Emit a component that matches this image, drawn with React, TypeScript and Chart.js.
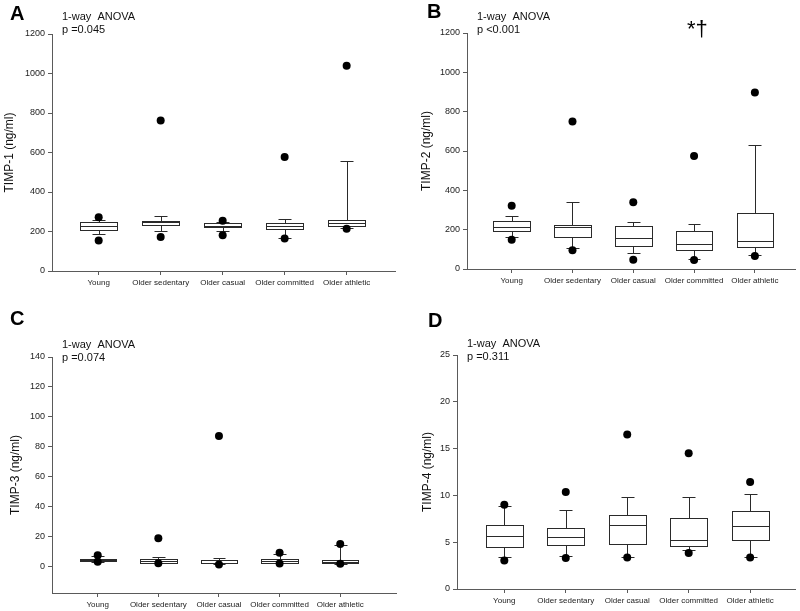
import React, { useEffect, useRef } from 'react';
import { Chart, registerables } from 'chart.js';

Chart.register(...registerables);

const FONT = 'Arial, "Liberation Sans", sans-serif';

// ---------- data ----------
const categories = ['Young', 'Older sedentary', 'Older casual', 'Older committed', 'Older athletic'];

// Panel A: TIMP-1
const timp1Q1 = [207, 233, 222, 214, 226];
const timp1Median = [226, 246, 230, 229, 241];
const timp1Q3 = [246, 254, 242, 245, 256];
const timp1WhiskerLow = [186, 202, 204, 167, 219];
const timp1WhiskerHigh = [258, 278, 250, 265, 555];
const timp1OutLow = [155, 172, 181, 164, 214];
const timp1OutHigh = [272, 762, 254, 577, 1039];

// Panel B: TIMP-2
const timp2Q1 = [191, 164, 117, 95, 112];
const timp2Median = [213, 213, 156, 127, 144];
const timp2Q3 = [246, 225, 219, 191, 283];
const timp2WhiskerLow = [164, 108, 79, 49, 69];
const timp2WhiskerHigh = [269, 339, 239, 230, 630];
const timp2OutLow = [149, 95, 47, 46, 66];
const timp2OutHigh = [322, 750, 340, 575, 898];

// Panel C: TIMP-3
const timp3Q1 = [3.2, 2.3, 2.0, 2.0, 1.8];
const timp3Median = [4.0, 3.6, 2.3, 3.4, 2.9];
const timp3Q3 = [4.7, 4.5, 4.0, 4.9, 4.0];
const timp3WhiskerLow = [3.0, 2.0, 1.5, 1.8, 1.6];
const timp3WhiskerHigh = [6.5, 6.1, 5.6, 8.3, 13.9];
const timp3OutLow = [2.9, 2.0, 1.1, 1.8, 1.6];
const timp3OutHigh = [7.2, 18.6, 87.1, 9.0, 14.8];

// Panel D: TIMP-4
const timp4Q1 = [4.51, 4.73, 4.83, 4.62, 5.23];
const timp4Median = [5.69, 5.58, 6.83, 5.26, 6.68];
const timp4Q3 = [6.83, 6.54, 7.86, 7.54, 8.32];
const timp4WhiskerLow = [3.37, 3.48, 3.37, 4.12, 3.45];
const timp4WhiskerHigh = [8.82, 8.39, 9.81, 9.88, 10.1];
const timp4OutLow = [3.05, 3.3, 3.37, 3.84, 3.37];
const timp4OutHigh = [9.0, 10.35, 16.5, 14.5, 11.42];

// tick labels
const ticksTimp12 = [0, 200, 400, 600, 800, 1000, 1200];
const ticksTimp3 = [0, 20, 40, 60, 80, 100, 120, 140];
const ticksTimp4 = [0, 5, 10, 15, 20, 25];

const panelLetters = ['A', 'B', 'C', 'D'];
const anovaLabel = '1-way  ANOVA';
const pValues = ['p =0.045', 'p <0.001', 'p =0.074', 'p =0.311'];
const yTitles = ['TIMP-1 (ng/ml)', 'TIMP-2 (ng/ml)', 'TIMP-3 (ng/ml)', 'TIMP-4 (ng/ml)'];
const significanceMark = '*\u2020';

// ---------- panel layout ----------
type PanelCfg = {
  left: number; top: number; w: number; h: number;
  yWidth: number; xHeight: number; padTop: number; padRight: number;
  xMin: number; xMax: number; yMin: number; yMax: number; yTicks: number[];
  titlePad: number;
  q1: number[]; med: number[]; q3: number[]; wl: number[]; wh: number[]; ol: number[]; oh: number[];
  letter: string; pText: string; yTitle: string;
  letterPos: [number, number]; textPos: [number, number];
  mark?: string; markPos?: [number, number];
};

const panels: PanelCfg[] = [
  {
    left: 0, top: 0, w: 400, h: 300, yWidth: 52, xHeight: 29, padTop: 34, padRight: 5,
    xMin: -0.753, xMax: 4.78, yMin: 0, yMax: 1200, yTicks: ticksTimp12, titlePad: 2,
    q1: timp1Q1, med: timp1Median, q3: timp1Q3, wl: timp1WhiskerLow, wh: timp1WhiskerHigh, ol: timp1OutLow, oh: timp1OutHigh,
    letter: panelLetters[0], pText: pValues[0], yTitle: yTitles[0],
    letterPos: [10, 20], textPos: [62, 20],
  },
  {
    left: 400, top: 0, w: 400, h: 300, yWidth: 67, xHeight: 31, padTop: 33, padRight: 5,
    xMin: -0.735, xMax: 4.66, yMin: 0, yMax: 1200, yTicks: ticksTimp12, titlePad: 19,
    q1: timp2Q1, med: timp2Median, q3: timp2Q3, wl: timp2WhiskerLow, wh: timp2WhiskerHigh, ol: timp2OutLow, oh: timp2OutHigh,
    letter: panelLetters[1], pText: pValues[1], yTitle: yTitles[1],
    letterPos: [27, 18], textPos: [77, 20],
    mark: significanceMark, markPos: [287, 36],
  },
  {
    left: 0, top: 300, w: 400, h: 311, yWidth: 52, xHeight: 18, padTop: 57, padRight: 3,
    xMin: -0.754, xMax: 4.92, yMin: -18, yMax: 140, yTicks: ticksTimp3, titlePad: 8,
    q1: timp3Q1, med: timp3Median, q3: timp3Q3, wl: timp3WhiskerLow, wh: timp3WhiskerHigh, ol: timp3OutLow, oh: timp3OutHigh,
    letter: panelLetters[2], pText: pValues[2], yTitle: yTitles[2],
    letterPos: [10, 25], textPos: [62, 48],
  },
  {
    left: 400, top: 300, w: 400, h: 311, yWidth: 57, xHeight: 22, padTop: 55, padRight: 5,
    xMin: -0.77, xMax: 4.73, yMin: 0, yMax: 25, yTicks: ticksTimp4, titlePad: 20,
    q1: timp4Q1, med: timp4Median, q3: timp4Q3, wl: timp4WhiskerLow, wh: timp4WhiskerHigh, ol: timp4OutLow, oh: timp4OutHigh,
    letter: panelLetters[3], pText: pValues[3], yTitle: yTitles[3],
    letterPos: [28, 27], textPos: [67, 47],
  },
];

const LINE = '#2a2a2a';
const AXIS = '#5a5a5a';

function makeBoxPlugin(p: PanelCfg) {
  return {
    id: 'boxplot',
    beforeDatasetsDraw(chart: any) {
      const { ctx, scales } = chart;
      const xs = scales.x;
      const ys = scales.y;
      ctx.save();
      ctx.lineWidth = 1;
      ctx.strokeStyle = LINE;
      const snap = (v: number) => Math.round(v) + 0.5;
      for (let i = 0; i < categories.length; i++) {
        const cx = snap(xs.getPixelForValue(i));
        const bl = snap(xs.getPixelForValue(i - 0.3));
        const br = snap(xs.getPixelForValue(i + 0.3));
        const cl = snap(xs.getPixelForValue(i - 0.105));
        const cr = snap(xs.getPixelForValue(i + 0.105));
        const yq1 = snap(ys.getPixelForValue(p.q1[i]));
        const yq3 = snap(ys.getPixelForValue(p.q3[i]));
        const ymed = snap(ys.getPixelForValue(p.med[i]));
        const ywl = snap(ys.getPixelForValue(p.wl[i]));
        const ywh = snap(ys.getPixelForValue(p.wh[i]));
        // whiskers
        ctx.beginPath();
        ctx.moveTo(cx, yq3); ctx.lineTo(cx, ywh);
        ctx.moveTo(cl, ywh); ctx.lineTo(cr, ywh);
        ctx.moveTo(cx, yq1); ctx.lineTo(cx, ywl);
        ctx.moveTo(cl, ywl); ctx.lineTo(cr, ywl);
        ctx.stroke();
        // box
        ctx.fillStyle = '#ffffff';
        ctx.fillRect(bl, yq3, br - bl, yq1 - yq3);
        ctx.strokeRect(bl, yq3, br - bl, yq1 - yq3);
        // median
        ctx.beginPath();
        ctx.moveTo(bl, ymed); ctx.lineTo(br, ymed);
        ctx.stroke();
      }
      ctx.restore();
    },
  };
}

function makeTextPlugin(p: PanelCfg) {
  return {
    id: 'annotations',
    afterDraw(chart: any) {
      const { ctx } = chart;
      ctx.save();
      ctx.fillStyle = '#000';
      ctx.textAlign = 'left';
      ctx.textBaseline = 'alphabetic';
      ctx.font = `bold 20px ${FONT}`;
      ctx.fillText(p.letter, p.letterPos[0], p.letterPos[1]);
      ctx.font = `11px ${FONT}`;
      ctx.fillStyle = '#111';
      ctx.fillText(anovaLabel, p.textPos[0], p.textPos[1]);
      ctx.fillText(p.pText, p.textPos[0], p.textPos[1] + 13);
      if (p.mark && p.markPos) {
        ctx.font = `22px ${FONT}`;
        ctx.fillStyle = '#000';
        ctx.fillText(p.mark, p.markPos[0], p.markPos[1]);
      }
      ctx.restore();
    },
  };
}

function BoxPanel({ p }: { p: PanelCfg }) {
  const ref = useRef<HTMLCanvasElement | null>(null);
  useEffect(() => {
    if (!ref.current) return;
    const points: { x: number; y: number }[] = [];
    for (let i = 0; i < categories.length; i++) {
      points.push({ x: i, y: p.ol[i] });
      points.push({ x: i, y: p.oh[i] });
    }
    const chart = new Chart(ref.current, {
      type: 'scatter',
      data: {
        datasets: [
          {
            data: points,
            pointRadius: 4,
            pointBackgroundColor: '#000',
            pointBorderColor: '#000',
            pointBorderWidth: 0,
          },
        ],
      },
      options: {
        responsive: false,
        animation: false,
        events: [],
        layout: { padding: { left: 0, top: p.padTop, right: p.padRight, bottom: 0 } },
        plugins: { legend: { display: false }, tooltip: { enabled: false } },
        scales: {
          x: {
            type: 'linear',
            min: p.xMin,
            max: p.xMax,
            afterBuildTicks: (s: any) => {
              s.ticks = categories.map((_, i) => ({ value: i }));
            },
            afterFit: (s: any) => {
              s.height = p.xHeight;
            },
            ticks: {
              autoSkip: false,
              maxRotation: 0,
              minRotation: 0,
              padding: 3,
              color: '#222',
              font: { family: FONT, size: 8 },
              callback: (v: any) => categories[Math.round(Number(v))],
            },
            grid: { display: true, drawOnChartArea: false, drawTicks: true, tickLength: 4, color: AXIS },
            border: { display: true, color: AXIS, width: 1 },
          },
          y: {
            type: 'linear',
            min: p.yMin,
            max: p.yMax,
            afterBuildTicks: (s: any) => {
              s.ticks = p.yTicks.map((v) => ({ value: v }));
            },
            afterFit: (s: any) => {
              s.width = p.yWidth;
            },
            ticks: {
              padding: 3,
              color: '#222',
              font: { family: FONT, size: 9 },
              callback: (v: any) => String(v),
            },
            grid: { display: true, drawOnChartArea: false, drawTicks: true, tickLength: 4, color: AXIS },
            border: { display: true, color: AXIS, width: 1 },
            title: {
              display: true,
              text: p.yTitle,
              color: '#111',
              font: { family: FONT, size: 12 },
              padding: { top: p.titlePad, bottom: 0 },
            },
          },
        },
      },
      plugins: [makeBoxPlugin(p), makeTextPlugin(p)],
    } as any);
    return () => chart.destroy();
  }, [p]);
  return (
    <canvas
      ref={ref}
      width={p.w}
      height={p.h}
      style={{ position: 'absolute', left: p.left, top: p.top, width: p.w, height: p.h }}
    />
  );
}

export default function App() {
  return (
    <div style={{ position: 'fixed', left: 0, top: 0, width: 800, height: 611, background: '#fff', overflow: 'hidden' }}>
      {panels.map((p, i) => (
        <BoxPanel key={i} p={p} />
      ))}
    </div>
  );
}
